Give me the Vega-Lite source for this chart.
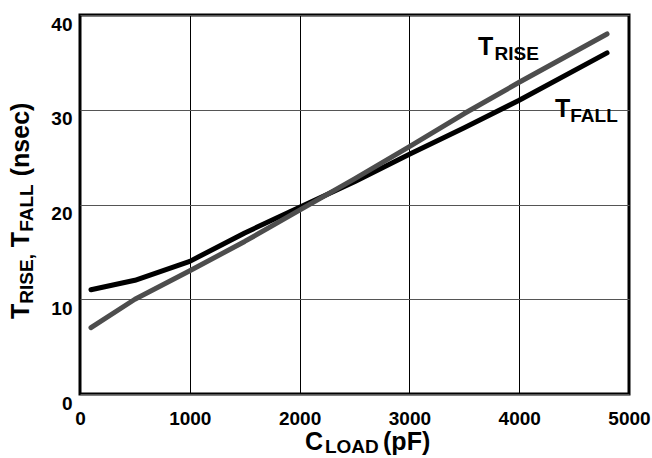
{
  "$schema": "https://vega.github.io/schema/vega-lite/v6.json",
  "width": 549,
  "height": 379,
  "autosize": {"type": "none"},
  "padding": {"left": 80, "top": 15, "right": 23, "bottom": 64},
  "background": "white",
  "config": {"view": {"stroke": "black", "strokeWidth": 3}, "font": "Liberation Sans"},
  "layer": [
    {
      "data": {"values": [
        {"C": 100, "T": 11, "series": "TFALL"},
        {"C": 500, "T": 12, "series": "TFALL"},
        {"C": 1000, "T": 14, "series": "TFALL"},
        {"C": 1500, "T": 17, "series": "TFALL"},
        {"C": 2000, "T": 19.7, "series": "TFALL"},
        {"C": 2500, "T": 22.4, "series": "TFALL"},
        {"C": 3000, "T": 25.3, "series": "TFALL"},
        {"C": 3500, "T": 28.1, "series": "TFALL"},
        {"C": 4000, "T": 31, "series": "TFALL"},
        {"C": 4800, "T": 36, "series": "TFALL"},
        {"C": 100, "T": 7, "series": "TRISE"},
        {"C": 500, "T": 10, "series": "TRISE"},
        {"C": 1000, "T": 13, "series": "TRISE"},
        {"C": 1500, "T": 16.1, "series": "TRISE"},
        {"C": 2000, "T": 19.4, "series": "TRISE"},
        {"C": 2500, "T": 22.7, "series": "TRISE"},
        {"C": 3000, "T": 26.1, "series": "TRISE"},
        {"C": 3500, "T": 29.6, "series": "TRISE"},
        {"C": 4000, "T": 32.9, "series": "TRISE"},
        {"C": 4800, "T": 38, "series": "TRISE"}
      ]},
      "mark": {"type": "line", "strokeWidth": 5, "strokeCap": "round", "strokeJoin": "round"},
      "encoding": {
        "x": {
          "field": "C", "type": "quantitative",
          "scale": {"domain": [0, 5000], "nice": false},
          "axis": {
            "values": [0, 1000, 2000, 3000, 4000, 5000], "format": "d", "title": null,
            "grid": true, "gridColor": "#000000", "gridWidth": 1, "gridOpacity": 1,
            "domain": false, "ticks": false,
            "labelFontSize": 19, "labelFontWeight": "bold", "labelColor": "#000000",
            "labelFont": "Liberation Sans", "labelPadding": 15, "labelFlush": false, "labelOverlap": false
          }
        },
        "y": {
          "field": "T", "type": "quantitative",
          "scale": {"domain": [0, 40], "nice": false},
          "axis": {
            "values": [0, 10, 20, 30, 40], "format": "d", "title": null,
            "grid": true, "gridColor": "#555555", "gridWidth": 1.2, "gridOpacity": 1,
            "domain": false, "ticks": false,
            "labelFontSize": 19, "labelFontWeight": "bold", "labelColor": "#000000",
            "labelFont": "Liberation Sans", "labelPadding": 8, "labelBaseline": "top",
            "labelFlush": false, "labelOverlap": false
          }
        },
        "color": {
          "field": "series", "type": "nominal",
          "scale": {"domain": ["TFALL", "TRISE"], "range": ["#000000", "#4d4d4d"]},
          "legend": null
        }
      }
    },
    {
      "data": {"values": [{}]},
      "mark": {"type": "text", "text": "T", "fontSize": 25, "fontWeight": "bold", "align": "left", "baseline": "alphabetic", "color": "#000000"},
      "encoding": {"x": {"datum": 3625, "type": "quantitative"}, "y": {"datum": 35.78, "type": "quantitative"}}
    },
    {
      "data": {"values": [{}]},
      "mark": {"type": "text", "text": "RISE", "fontSize": 19, "fontWeight": "bold", "align": "left", "baseline": "alphabetic", "color": "#000000"},
      "encoding": {"x": {"datum": 3775, "type": "quantitative"}, "y": {"datum": 35.25, "type": "quantitative"}}
    },
    {
      "data": {"values": [{}]},
      "mark": {"type": "text", "text": "T", "fontSize": 25, "fontWeight": "bold", "align": "left", "baseline": "alphabetic", "color": "#000000"},
      "encoding": {"x": {"datum": 4326, "type": "quantitative"}, "y": {"datum": 29.23, "type": "quantitative"}}
    },
    {
      "data": {"values": [{}]},
      "mark": {"type": "text", "text": "FALL", "fontSize": 19, "fontWeight": "bold", "align": "left", "baseline": "alphabetic", "color": "#000000"},
      "encoding": {"x": {"datum": 4465, "type": "quantitative"}, "y": {"datum": 28.71, "type": "quantitative"}}
    },
    {
      "data": {"values": [{}]},
      "mark": {"type": "text", "text": "C", "fontSize": 25, "fontWeight": "bold", "align": "left", "baseline": "alphabetic", "color": "#000000"},
      "encoding": {"x": {"datum": 2049, "type": "quantitative"}, "y": {"datum": -5.91, "type": "quantitative"}}
    },
    {
      "data": {"values": [{}]},
      "mark": {"type": "text", "text": "LOAD", "fontSize": 19, "fontWeight": "bold", "align": "left", "baseline": "alphabetic", "color": "#000000"},
      "encoding": {"x": {"datum": 2231, "type": "quantitative"}, "y": {"datum": -6.23, "type": "quantitative"}}
    },
    {
      "data": {"values": [{}]},
      "mark": {"type": "text", "text": "(pF)", "fontSize": 25, "fontWeight": "bold", "align": "left", "baseline": "alphabetic", "color": "#000000"},
      "encoding": {"x": {"datum": 2760, "type": "quantitative"}, "y": {"datum": -5.91, "type": "quantitative"}}
    },
    {
      "data": {"values": [{}]},
      "mark": {"type": "text", "text": "T", "fontSize": 25, "fontWeight": "bold", "align": "left", "baseline": "alphabetic", "angle": 270, "color": "#000000"},
      "encoding": {"x": {"datum": -464.5, "type": "quantitative"}, "y": {"datum": 7.92, "type": "quantitative"}}
    },
    {
      "data": {"values": [{}]},
      "mark": {"type": "text", "text": "RISE,", "fontSize": 19, "fontWeight": "bold", "align": "left", "baseline": "alphabetic", "angle": 270, "color": "#000000"},
      "encoding": {"x": {"datum": -428, "type": "quantitative"}, "y": {"datum": 9.53, "type": "quantitative"}}
    },
    {
      "data": {"values": [{}]},
      "mark": {"type": "text", "text": "T", "fontSize": 25, "fontWeight": "bold", "align": "left", "baseline": "alphabetic", "angle": 270, "color": "#000000"},
      "encoding": {"x": {"datum": -464.5, "type": "quantitative"}, "y": {"datum": 15.5, "type": "quantitative"}}
    },
    {
      "data": {"values": [{}]},
      "mark": {"type": "text", "text": "FALL", "fontSize": 19, "fontWeight": "bold", "align": "left", "baseline": "alphabetic", "angle": 270, "color": "#000000"},
      "encoding": {"x": {"datum": -428, "type": "quantitative"}, "y": {"datum": 17.12, "type": "quantitative"}}
    },
    {
      "data": {"values": [{}]},
      "mark": {"type": "text", "text": "(nsec)", "fontSize": 25, "fontWeight": "bold", "align": "left", "baseline": "alphabetic", "angle": 270, "color": "#000000"},
      "encoding": {"x": {"datum": -464.5, "type": "quantitative"}, "y": {"datum": 22.98, "type": "quantitative"}}
    }
  ]
}
